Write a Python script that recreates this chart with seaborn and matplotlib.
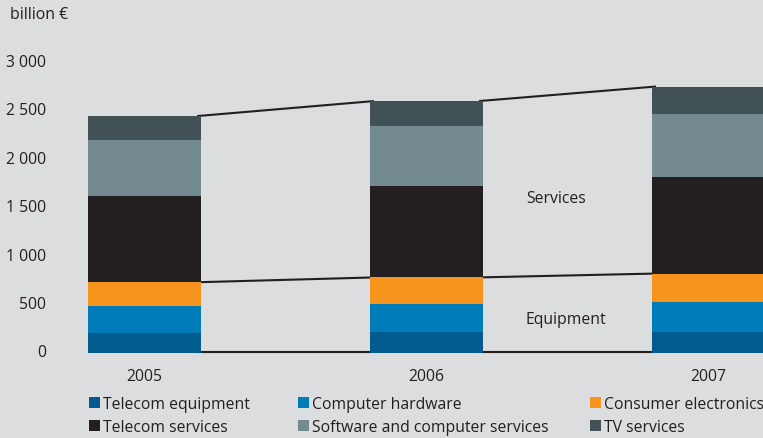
import matplotlib
matplotlib.use("Agg")
import matplotlib.pyplot as plt
from matplotlib.patches import Patch
from matplotlib.ticker import FuncFormatter
from matplotlib.transforms import ScaledTranslation
import numpy as np
import pandas as pd
import seaborn as sns

# ICT market by segment, billion €
years = ["2005", "2006", "2007"]
segments = ["Telecom equipment", "Computer hardware", "Consumer electronics",
            "Telecom services", "Software and computer services", "TV services"]
telecom_equipment = [205, 215, 215]
computer_hardware = [280, 290, 310]
consumer_electronics = [245, 275, 295]
telecom_services = [890, 940, 1000]
software_services = [580, 620, 650]
tv_services = [245, 260, 280]
yticks = [0, 500, 1000, 1500, 2000, 2500, 3000]

colors = ["#005B8F", "#007DB8", "#F7941D", "#231F20", "#738A90", "#425155"]
bg = "#DCDDDF"
ink = "#231F20"
fs = 11.3

sns.set_theme(style="white")
plt.rcParams["font.family"] = ["Open Sans", "DejaVu Sans"]

series = [telecom_equipment, computer_hardware, consumer_electronics,
          telecom_services, software_services, tv_services]
stack = np.cumsum(np.array(series, dtype=float), axis=0)

fig = plt.figure(figsize=(7.63, 4.39), dpi=100, facecolor=bg)
W, H = 763, 439
base_px = 354
ax = fig.add_axes([60 / W, (H - base_px) / H, (W - 60) / W, (base_px - 40) / H])
ax.set_facecolor(bg)

bar_w = 0.4025
# stacked bars: draw cumulative totals from the top layer down
for k in range(len(segments) - 1, -1, -1):
    df = pd.DataFrame({"year": years, "value": stack[k]})
    sns.barplot(data=df, x="year", y="value", color=colors[k], saturation=1,
                width=bar_w, errorbar=None, ax=ax, zorder=2, linewidth=0)

equipment_total = stack[2]
grand_total = stack[-1]
for i in range(len(years) - 1):
    x0, x1 = i + bar_w / 2, i + 1 - bar_w / 2
    for level in (grand_total, equipment_total):
        ax.plot([x0 - 0.015, x1 + 0.015], [level[i], level[i + 1]],
                color=ink, lw=1.5, zorder=1, solid_capstyle="butt")
    ax.plot([x0 - 0.015, x1 + 0.015], [15, 15], color=ink, lw=1.5, zorder=1,
            solid_capstyle="butt", clip_on=False)

ax.text(1.353, 1600, "Services", fontsize=fs, color=ink, va="center", ha="left")
ax.text(1.35, 350, "Equipment", fontsize=fs, color=ink, va="center", ha="left")

ax.set_xlim((60 - 144.5) / 282, (763 - 144.5) / 282)
px_per_unit = 0.0969
ax.set_ylim(0, (base_px - 40) / px_per_unit)
ax.set_yticks(yticks)
ax.yaxis.set_major_formatter(FuncFormatter(lambda v, p: f"{int(v):,}".replace(",", " ")))
ax.tick_params(axis="y", length=0, pad=9.8, labelsize=fs, labelcolor=ink)
ax.tick_params(axis="x", length=0, pad=10.5, labelsize=fs, labelcolor=ink)
ax.set_xlabel("")
ax.set_ylabel("")
for s in ax.spines.values():
    s.set_visible(False)

# nudge the value labels up slightly
lift = ScaledTranslation(0, 2.5 / 100, fig.dpi_scale_trans)
for lab in ax.get_yticklabels():
    lab.set_transform(lab.get_transform() + lift)

fig.text(10 / W, 1 - 15 / H, "billion €", fontsize=fs, color=ink, va="center", ha="left")

# legend: three columns of two entries each
cols = [(0, 3), (1, 4), (2, 5)]
col_x = [89, 298, 590]
for (a, b), xpx in zip(cols, col_x):
    handles = [Patch(facecolor=colors[a], edgecolor="none"),
               Patch(facecolor=colors[b], edgecolor="none")]
    fig.legend(handles, [segments[a], segments[b]], loc="upper left",
               bbox_to_anchor=(xpx / W, 1 - 397 / H), frameon=False,
               fontsize=fs, handlelength=0.7, handleheight=0.7,
               handletextpad=0.2, labelspacing=0.45, borderpad=0,
               borderaxespad=0, labelcolor=ink)

fig.savefig("out.png", dpi=100, facecolor=bg)
